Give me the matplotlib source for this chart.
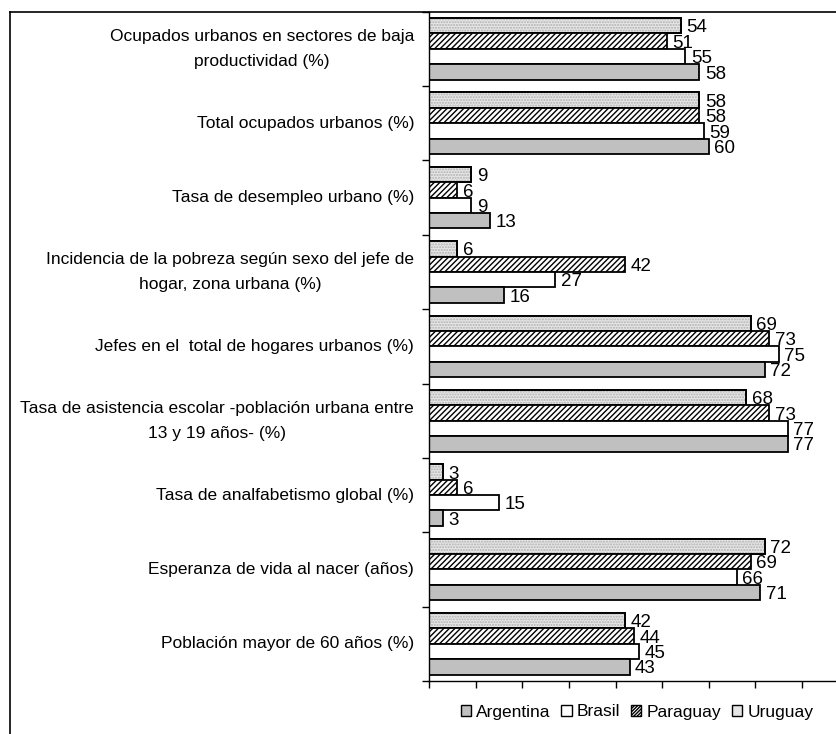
import numpy as np
import matplotlib
matplotlib.use("Agg")
import matplotlib.pyplot as plt
from matplotlib.lines import Line2D
from matplotlib.patches import Patch

# indicator labels, top to bottom
categories = [
    "Ocupados urbanos en sectores de baja\nproductividad (%)",
    "Total ocupados urbanos (%)",
    "Tasa de desempleo urbano (%)",
    "Incidencia de la pobreza según sexo del jefe de\nhogar, zona urbana (%)",
    "Jefes en el  total de hogares urbanos (%)",
    "Tasa de asistencia escolar -población urbana entre\n13 y 19 años- (%)",
    "Tasa de analfabetismo global (%)",
    "Esperanza de vida al nacer (años)",
    "Población mayor de 60 años (%)",
]

argentina = [58, 60, 13, 16, 72, 77, 3, 71, 43]
brasil = [55, 59, 9, 27, 75, 77, 15, 66, 45]
paraguay = [51, 58, 6, 42, 73, 73, 6, 69, 44]
uruguay = [54, 58, 9, 6, 69, 68, 3, 72, 42]

plt.rcParams["font.family"] = ["Liberation Sans", "DejaVu Sans"]
plt.rcParams["hatch.linewidth"] = 1.0

W, H = 837, 734
fig = plt.figure(figsize=(W / 100, H / 100), dpi=100)
ax = fig.add_axes([429.3 / W, 1 - 681 / H, (W - 429.3) / W, (681 - 11.7) / H])

y = np.arange(len(categories))
h = 0.207

# series from top bar to bottom bar inside each group
series = [
    ("Uruguay", uruguay, dict(facecolor="#e6e6e6")),
    ("Paraguay", paraguay, dict(facecolor="white", hatch="//////")),
    ("Brasil", brasil, dict(facecolor="white")),
    ("Argentina", argentina, dict(facecolor="#c0c0c0")),
]

for k, (name, vals, style) in enumerate(series):
    pos = y + (k - 1.5) * h
    ax.barh(pos, vals, height=h, linewidth=1.3, edgecolor="black", **style)
    if name == "Uruguay":
        # fine grey dot pattern, then redraw the black outline
        ax.barh(pos, vals, height=h, fill=False, hatch="......", edgecolor="#b0b0b0", linewidth=0)
        ax.barh(pos, vals, height=h, fill=False, edgecolor="black", linewidth=1.3)
    for p, v in zip(pos, vals):
        ax.annotate(str(v), (v, p), xytext=(4, -1.5), textcoords="offset points",
                    ha="left", va="center", fontsize=13.5)

ax.set_xlim(0, (W - 429.3) / 4.657)
ax.set_ylim(len(categories) - 0.5, -0.5)

ax.set_xticks(np.arange(0, 90, 10))
ax.set_xticklabels([])
ax.tick_params(axis="x", direction="out", length=5, width=1)

ax.set_yticks(y)
ax.set_yticklabels(categories, fontsize=12.5, multialignment="center", linespacing=1.85)
for lbl in ax.get_yticklabels():
    lbl.set_va("center")
ax.tick_params(axis="y", which="major", length=0, pad=11)
ax.set_yticks(np.arange(-0.5, len(categories)), minor=True)
ax.tick_params(axis="y", which="minor", direction="out", length=5, width=1)

for s in ["top", "right"]:
    ax.spines[s].set_visible(False)
ax.spines["left"].set_linewidth(1)
ax.spines["bottom"].set_linewidth(1)

# outer chart border (left and top)
fig.add_artist(Line2D([9.5 / W, 9.5 / W], [0, 1 - 11.7 / H], color="black", lw=1.2))
fig.add_artist(Line2D([9.5 / W, 1], [1 - 11.7 / H, 1 - 11.7 / H], color="black", lw=1.2))

handles = [Patch(facecolor="#c0c0c0", edgecolor="black", linewidth=1),
           Patch(facecolor="white", edgecolor="black", linewidth=1),
           Patch(facecolor="white", hatch="//////////", edgecolor="black", linewidth=1),
           Patch(facecolor="#e6e6e6", edgecolor="black", linewidth=1)]
labels = ["Argentina", "Brasil", "Paraguay", "Uruguay"]
fig.legend(handles, labels, loc="center", bbox_to_anchor=(637 / W, 1 - 712 / H), ncol=4,
           frameon=False, fontsize=12.5, handlelength=0.6, handleheight=0.6,
           handletextpad=0.3, columnspacing=0.6, borderpad=0)

fig.savefig("out.png", dpi=100)
